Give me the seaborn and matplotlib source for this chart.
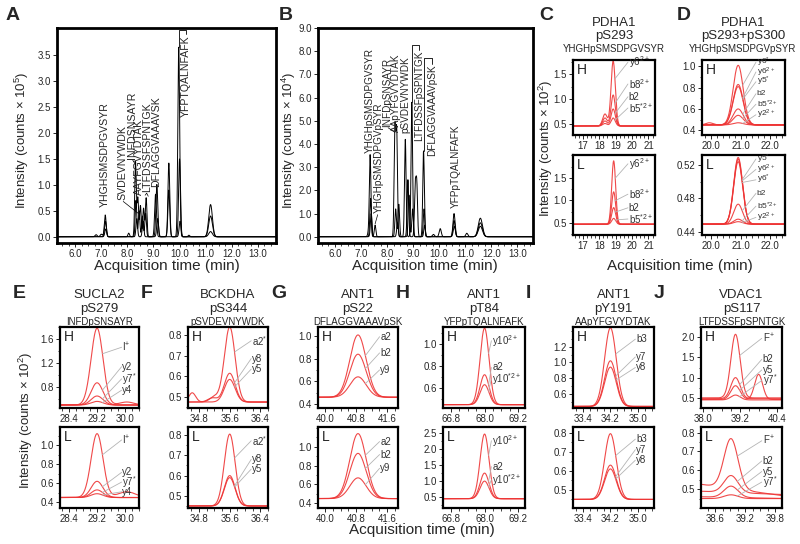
import numpy as np
import pandas as pd
import matplotlib
matplotlib.use("Agg")
import matplotlib.pyplot as plt
from matplotlib.ticker import FixedLocator, AutoMinorLocator, FormatStrFormatter
import seaborn as sns

sns.set_theme(style="ticks")
plt.rcParams["font.family"] = ["Liberation Sans", "DejaVu Sans"]
plt.rcParams["mathtext.fontset"] = "custom"
plt.rcParams["mathtext.rm"] = "Liberation Sans"
plt.rcParams["mathtext.it"] = "Liberation Sans:italic"
plt.rcParams["mathtext.bf"] = "Liberation Sans:bold"

# ---------------- A: light peptides overview (counts x 1e5) ----------------
a_rt = [6.80, 7.00, 7.15, 8.05, 8.31, 8.40, 8.50, 8.62, 8.72, 9.08, 9.59, 9.97, 11.19,
        7.16, 8.33, 8.45, 8.58, 8.70, 9.12, 9.14, 9.59, 10.00, 11.19,
        7.17, 8.36, 8.60, 9.16, 10.02, 10.36, 11.19]
a_height = [0.04, 0.05, 0.42, 0.07, 1.45, 0.75, 0.60, 0.55, 0.75, 0.82, 1.42, 3.65, 0.62,
            0.30, 0.70, 0.50, 0.40, 0.45, 0.55, 0.50, 0.90, 1.50, 0.40,
            0.15, 0.35, 0.30, 0.35, 0.30, 0.03, 0.10]
a_width = [0.04, 0.04, 0.035, 0.03, 0.03, 0.03, 0.03, 0.03, 0.03, 0.035, 0.035, 0.035, 0.07,
           0.035, 0.03, 0.03, 0.03, 0.03, 0.035, 0.035, 0.035, 0.035, 0.07,
           0.035, 0.03, 0.03, 0.035, 0.035, 0.03, 0.07]
a_trace = [0] * 13 + [1] * 10 + [2] * 7
a_labels = ["YHGHSMSDPGVSYR", "SVDEVNYWDK", "INFDSNSAYR", "AAYFGVYDTAK",
            "LTFDSSFSPNTGK", "DFLAGGVAAAVSK", "YFPTQALNFAFK"]
a_label_x = [7.15, 7.80, 8.18, 8.44, 8.76, 9.10, 10.23]
a_label_y = [0.58, 0.70, 1.50, 0.80, 0.86, 0.95, 3.88]
a_label_va = ["bottom"] * 6 + ["top"]

# ---------------- B: heavy phosphopeptides overview (counts x 1e4) ----------------
b_rt = [7.28, 7.35, 7.54, 8.30, 8.37, 8.70, 8.95, 9.40, 10.04, 10.57, 11.06, 11.58,
        7.37, 8.33, 8.45, 8.80, 9.08, 9.14, 9.42, 9.78, 10.57, 11.58,
        7.39, 8.40, 8.84, 8.98, 9.44, 10.58, 11.58]
b_height = [0.15, 3.53, 0.50, 4.60, 4.45, 4.20, 5.80, 3.70, 0.35, 1.00, 0.15, 0.80,
            1.65, 1.20, 1.40, 2.46, 2.10, 2.20, 1.20, 0.10, 0.70, 0.60,
            1.00, 0.60, 1.80, 1.20, 0.50, 0.45, 0.45]
b_width = [0.03, 0.03, 0.03, 0.03, 0.03, 0.03, 0.03, 0.03, 0.04, 0.04, 0.04, 0.08,
           0.03, 0.03, 0.03, 0.03, 0.03, 0.03, 0.03, 0.04, 0.04, 0.08,
           0.03, 0.03, 0.03, 0.03, 0.03, 0.04, 0.08]
b_trace = [0] * 12 + [1] * 10 + [2] * 7
b_labels = ["YHGHpSMSDPGVSYR", "YHGHpSMSDPGVpSYR", "INFDpSNSAYR", "AApYFGVYDTAK",
            "pSVDEVNYWDK", "LTFDSSFpSPNTGK", "DFLAGGVAAAVpSK", "YFPpTQALNFAFK"]
b_label_x = [7.33, 7.68, 8.02, 8.35, 8.69, 9.22, 9.72, 10.62]
b_label_y = [3.60, 1.03, 4.74, 4.50, 4.46, 8.02, 7.42, 1.25]
b_label_va = ["bottom"] * 5 + ["top", "top", "bottom"]

# ---------------- C: PDHA1 pS293 ----------------
c_ions = ["y6$^{2+}$", "b8$^{2+}$", "b2", "b5$^{*2+}$"]
c_h_apex = [1.76, 1.08, 0.80, 0.62]
c_h_shoulder = [0.70, 0.62, 0.56, 0.51]
c_l_apex = [1.88, 1.19, 0.84, 0.60]

# ---------------- D: PDHA1 pS293+pS300 ----------------
d_h_ions = ["y6$^{*}$", "y6$^{2+}$", "y5$^{*}$", "b2", "b5$^{*2+}$", "y2$^{2+}$"]
d_h_apex = [1.01, 0.83, 0.81, 0.60, 0.54, 0.47]
d_l_ions = ["y5$^{*}$", "y6$^{2+}$", "y6$^{*}$", "b2", "b5$^{*2+}$", "y2$^{2+}$"]
d_l_apex = [0.529, 0.527, 0.524, 0.473, 0.455, 0.452]

# ---------------- E-J ----------------
e_ions = ["I$^{+}$", "y2", "y7$^{*}$", "y4"]
e_h_apex = [1.78, 0.87, 0.65, 0.56]
e_l_apex = [1.12, 0.62, 0.53, 0.49]

f_ions = ["a2$^{*}$", "y8", "y5"]
f_h_apex = [0.84, 0.615, 0.585]
f_l_apex = [0.805, 0.60, 0.59]

g_ions = ["a2", "b2", "y9"]
g_h_apex = [1.01, 0.84, 0.64]
g_l_apex = [1.14, 0.93, 0.67]

h_ions = ["y10$^{2+}$", "a2", "y10$^{*2+}$"]
h_h_apex = [1.14, 0.72, 0.63]
h_l_apex = [2.47, 1.25, 1.00]

i_ions = ["b3", "y7", "y8"]
i_h_apex = [1.44, 1.02, 0.94]
i_l_apex = [0.795, 0.63, 0.61]

j_ions = ["F$^{+}$", "b2", "y5", "y7$^{*}$"]
j_h_apex = [2.07, 1.00, 0.80, 0.57]
j_h_base = [0.50, 0.48, 0.46, 0.45]
j_l_apex = [0.795, 0.58, 0.52, 0.47]
j_l_base_left = [0.53, 0.49, 0.46, 0.45]
j_l_base_right = [0.46, 0.47, 0.45, 0.45]

RED = "#ee3535"
GREY = "#b4b4b4"

fig = plt.figure(figsize=(8, 5.44), dpi=100)


def box(l, t, r, b):
    return fig.add_axes([l / 800, 1 - b / 544, (r - l) / 800, (b - t) / 544])


def gauss(t, rt, w):
    return np.exp(-0.5 * ((t - rt) / w) ** 2)


def style(ax, xlim, ylim, xt, yt, xfmt="%.1f", yfmt="%.1f", lw=1.6, xminor=4, yminor=2):
    ax.set_xlim(xlim)
    ax.set_ylim(ylim)
    ax.xaxis.set_major_locator(FixedLocator(xt))
    ax.yaxis.set_major_locator(FixedLocator(yt))
    ax.xaxis.set_major_formatter(FormatStrFormatter(xfmt))
    ax.yaxis.set_major_formatter(FormatStrFormatter(yfmt))
    if xminor:
        ax.xaxis.set_minor_locator(AutoMinorLocator(xminor))
    if yminor:
        ax.yaxis.set_minor_locator(AutoMinorLocator(yminor))
    ax.tick_params(which="major", direction="out", length=3, width=0.7, labelsize=7, pad=1.5)
    ax.tick_params(which="minor", direction="out", length=1.8, width=0.6)
    for s in ax.spines.values():
        s.set_linewidth(lw)
        s.set_color("black")
    ax.set_xlabel("")
    ax.set_ylabel("")
    ax.grid(False)


def overview(ax, rt, height, width, trace, t):
    frames = []
    for k in sorted(set(trace)):
        y = np.zeros_like(t)
        for r, h, w, tr in zip(rt, height, width, trace):
            if tr == k:
                y = y + h * gauss(t, r, w)
        frames.append(pd.DataFrame({"time": t, "intensity": y, "trace": k}))
    df = pd.concat(frames)
    sns.lineplot(data=df, x="time", y="intensity", units="trace", estimator=None,
                 color="black", lw=0.7, ax=ax, legend=False)


def srm(ax, t, rt, w, ions, apex, base, label_x, label_y, lead, extra=None,
        base_right=None, fs=7):
    frames = []
    curves = []
    for i, ion in enumerate(ions):
        b0 = base[i] if isinstance(base, list) else base
        b1 = base_right[i] if base_right is not None else b0
        bl = b0 + (b1 - b0) * (t - t[0]) / (t[-1] - t[0])
        y = bl + (apex[i] - b0) * gauss(t, rt, w)
        if extra is not None:
            for (er, eh, ew, ei) in extra:
                if ei == i:
                    y = y + eh * gauss(t, er, ew)
        curves.append(y)
        frames.append(pd.DataFrame({"time": t, "intensity": y, "ion": ion}))
    df = pd.concat(frames)
    sns.lineplot(data=df, x="time", y="intensity", units="ion", estimator=None,
                 color=RED, lw=0.8, alpha=0.9, ax=ax, legend=False)
    for i, ion in enumerate(ions):
        tp = rt + lead * w
        yp = np.interp(tp, t, curves[i])
        ax.annotate("", xy=(tp, yp), xycoords="data",
                    xytext=(label_x - 0.01, label_y[i]), textcoords="axes fraction",
                    arrowprops=dict(arrowstyle="-", color=GREY, lw=0.6, shrinkA=0, shrinkB=0))
        ax.text(label_x, label_y[i], ion, transform=ax.transAxes, fontsize=fs,
                ha="left", va="center", color="#333333")


def hl(ax, s):
    ax.text(0.05, 0.96, s, transform=ax.transAxes, fontsize=10, ha="left", va="top")


def px_text(x, y, s, **kw):
    fig.text(x / 800, 1 - y / 544, s, **kw)


# ---- Panel A
axA = box(57, 28, 276, 243)
tA = np.linspace(5.3, 13.7, 3000)
overview(axA, a_rt, a_height, a_width, a_trace, tA)
style(axA, (5.3, 13.7), (-0.12, 4.02), [6, 7, 8, 9, 10, 11, 12, 13],
      [0, 0.5, 1.0, 1.5, 2.0, 2.5, 3.0, 3.5], lw=2.0, yminor=None)
for s, x, y, va in zip(a_labels, a_label_x, a_label_y, a_label_va):
    axA.text(x, y, s, rotation=90, fontsize=7.6, ha="center", va=va)
axA.plot([7.84, 8.42], [0.68, 0.45], color="black", lw=0.5)
axA.plot([8.20, 8.30], [1.48, 1.40], color="black", lw=0.5)
axA.plot([8.68, 8.74, 8.80], [0.80, 0.84, 0.78], color="black", lw=0.5)
axA.plot([9.97, 9.97, 10.23, 10.23], [3.66, 3.99, 3.99, 3.90], color="black", lw=0.6)

# ---- Panel B
axB = box(318, 28, 533, 243)
tB = np.linspace(5.35, 13.6, 3000)
overview(axB, b_rt, b_height, b_width, b_trace, tB)
style(axB, (5.35, 13.6), (-0.27, 9.0), [6, 7, 8, 9, 10, 11, 12, 13],
      [0, 1, 2, 3, 4, 5, 6, 7, 8, 9], lw=2.0, yminor=None)
for s, x, y, va in zip(b_labels, b_label_x, b_label_y, b_label_va):
    axB.text(x, y, s, rotation=90, fontsize=7.2, ha="center", va=va)
axB.plot([7.64, 7.54], [0.95, 0.55], color="black", lw=0.5)
axB.plot([8.04, 8.30], [4.70, 4.50], color="black", lw=0.5)
axB.plot([8.95, 8.95, 9.22, 9.22], [5.80, 8.27, 8.27, 8.06], color="black", lw=0.6)
axB.plot([9.40, 9.40, 9.72, 9.72], [3.70, 7.70, 7.70, 7.46], color="black", lw=0.6)

# ---- Panel C
tC = np.linspace(16.3, 21.5, 600)
axCH = box(573, 60, 655, 135)
srm(axCH, tC, 18.85, 0.13, c_ions, c_h_apex, 0.46, 0.68, [0.97, 0.68, 0.51, 0.36], 0.8,
    extra=[(18.35, c_h_shoulder[i] - 0.46, 0.14, i) for i in range(4)])
style(axCH, (16.4, 21.4), (0.28, 1.78), [17, 18, 19, 20, 21], [0.5, 1.0, 1.5], xfmt="%d")
hl(axCH, "H")
axCL = box(573, 155, 655, 235)
srm(axCL, tC, 18.88, 0.12, c_ions, c_l_apex, 0.47, 0.68, [0.89, 0.51, 0.34, 0.20], 0.8)
style(axCL, (16.4, 21.4), (0.23, 2.01), [17, 18, 19, 20, 21], [0.5, 1.0, 1.5], xfmt="%d")
hl(axCL, "L")

# ---- Panel D
tD = np.linspace(19.6, 22.6, 600)
axDH = box(702, 60, 785, 135)
srm(axDH, tD, 20.92, 0.17, d_h_ions, d_h_apex, 0.45, 0.66,
    [0.97, 0.84, 0.71, 0.55, 0.41, 0.27], 0.9,
    extra=[(19.95, 0.02, 0.12, 0)], fs=6)
style(axDH, (19.7, 22.5), (0.355, 1.06), [20, 21, 22], [0.4, 0.6, 0.8, 1.0], xminor=5)
hl(axDH, "H")
axDL = box(702, 155, 785, 235)
srm(axDL, tD, 20.92, 0.15, d_l_ions, d_l_apex, 0.449, 0.66,
    [0.95, 0.82, 0.69, 0.52, 0.36, 0.22], 0.9, fs=6)
style(axDL, (19.7, 22.5), (0.436, 0.532), [20, 21, 22], [0.44, 0.48, 0.52],
      yfmt="%.2f", xminor=5)
hl(axDL, "L")

# ---- bottom row
cols = {"E": (60, 139), "F": (188, 268), "G": (318, 398),
        "H": (443, 525), "I": (573, 654), "J": (701, 782)}
rowH = (327, 408)
rowL = (427, 508)


def pair(key):
    l, r = cols[key]
    return box(l, rowH[0], r, rowH[1]), box(l, rowL[0], r, rowL[1])


# E
axEH, axEL = pair("E")
tE = np.linspace(28.0, 30.6, 500)
srm(axEH, tE, 29.2, 0.17, e_ions, e_h_apex, 0.50, 0.79, [0.75, 0.51, 0.36, 0.22], 0.9,
    extra=[(30.05, 0.05, 0.2, 0)])
style(axEH, (28.14, 30.4), (0.45, 1.80), [28.4, 29.2, 30.0], [0.8, 1.2, 1.6])
srm(axEL, tE, 29.2, 0.17, e_ions, e_l_apex, 0.45, 0.79, [0.84, 0.44, 0.32, 0.20], 0.9,
    extra=[(30.05, 0.06, 0.25, 0)])
style(axEL, (28.14, 30.4), (0.34, 1.19), [28.4, 29.2, 30.0], [0.4, 0.6, 0.8, 1.0])

# F
axFH, axFL = pair("F")
tF = np.linspace(34.3, 36.8, 500)
srm(axFH, tF, 35.6, 0.14, f_ions, f_h_apex, 0.475, 0.80, [0.83, 0.61, 0.48], 0.9,
    extra=[(34.62, 0.045, 0.09, 0), (35.2, 0.025, 0.12, 0), (35.15, 0.02, 0.12, 1)])
style(axFH, (34.51, 36.6), (0.446, 0.84), [34.8, 35.6, 36.4], [0.5, 0.6, 0.7, 0.8])
srm(axFL, tF, 35.6, 0.14, f_ions, f_l_apex, 0.45, 0.80, [0.83, 0.60, 0.48], 0.9)
style(axFL, (34.51, 36.6), (0.44, 0.84), [34.8, 35.6, 36.4], [0.5, 0.6, 0.7, 0.8])

# G
axGH, axGL = pair("G")
tG = np.linspace(39.6, 42.1, 500)
srm(axGH, tG, 40.85, 0.21, g_ions, g_h_apex, 0.46, 0.78, [0.88, 0.68, 0.47], 0.9)
style(axGH, (39.82, 41.88), (0.365, 1.08), [40.0, 40.8, 41.6], [0.4, 0.6, 0.8, 1.0])
srm(axGL, tG, 40.85, 0.21, g_ions, g_l_apex, 0.45, 0.78, [0.82, 0.66, 0.49], 0.9)
style(axGL, (39.82, 41.88), (0.35, 1.21), [40.0, 40.8, 41.6], [0.4, 0.6, 0.8, 1.0])

# H
axHH, axHL = pair("H")
tH = np.linspace(66.3, 69.7, 600)
srm(axHH, tH, 68.0, 0.16, h_ions, h_h_apex, 0.45, 0.60, [0.83, 0.50, 0.36], 0.9)
style(axHH, (66.51, 69.45), (0.42, 1.15), [66.8, 68.0, 69.2], [0.6, 0.8, 1.0])
srm(axHL, tH, 68.0, 0.16, h_ions, h_l_apex, 0.45, 0.60, [0.83, 0.51, 0.35], 0.9)
style(axHL, (66.51, 69.45), (0.16, 2.69), [66.8, 68.0, 69.2], [0.5, 1.0, 1.5, 2.0, 2.5])

# I
axIH, axIL = pair("I")
tI = np.linspace(32.9, 35.7, 600)
srm(axIH, tI, 34.2, 0.17, i_ions, i_h_apex, 0.44, 0.78, [0.85, 0.63, 0.50], 0.9)
style(axIH, (33.11, 35.47), (0.42, 1.45), [33.4, 34.2, 35.0], [0.6, 0.8, 1.0, 1.2])
srm(axIL, tI, 34.2, 0.17, i_ions, i_l_apex, 0.45, 0.78, [0.85, 0.72, 0.59], 0.9)
style(axIL, (33.11, 35.47), (0.405, 0.83), [33.4, 34.2, 35.0], [0.5, 0.6, 0.7, 0.8])

# J
axJH, axJL = pair("J")
tJ = np.linspace(37.7, 40.8, 600)
srm(axJH, tJ, 39.05, 0.15, j_ions, j_h_apex, j_h_base, 0.76, [0.86, 0.60, 0.47, 0.34], 0.9,
    extra=[(39.8, 0.62, 0.13, 2)])
style(axJH, (37.93, 40.56), (0.25, 2.25), [38.0, 39.2, 40.4], [0.5, 1.0, 1.5, 2.0])
tJL = np.linspace(38.2, 40.1, 600)
srm(axJL, tJL, 38.92, 0.14, j_ions, j_l_apex, j_l_base_left, 0.76,
    [0.83, 0.58, 0.45, 0.32], 0.9, base_right=j_l_base_right)
style(axJL, (38.32, 39.94), (0.40, 0.83), [38.6, 39.2, 39.8], [0.5, 0.6, 0.7, 0.8])

for axh, axl in [(axEH, axEL), (axFH, axFL), (axGH, axGL), (axHH, axHL), (axIH, axIL), (axJH, axJL)]:
    hl(axh, "H")
    hl(axl, "L")

# ---- titles and letters
titles = {"E": ("SUCLA2", "pS279", "INFDpSNSAYR"),
          "F": ("BCKDHA", "pS344", "pSVDEVNYWDK"),
          "G": ("ANT1", "pS22", "DFLAGGVAAAVpSK"),
          "H": ("ANT1", "pT84", "YFPpTQALNFAFK"),
          "I": ("ANT1", "pY191", "AApYFGVYDTAK"),
          "J": ("VDAC1", "pS117", "LTFDSSFpSPNTGK")}
for key, (l, r) in cols.items():
    cx = (l + r) / 2
    g, p, seq = titles[key]
    px_text(cx, 295, g, fontsize=9.5, ha="center", va="center")
    px_text(cx, 309, p, fontsize=9.5, ha="center", va="center")
    px_text(cx, 322, seq, fontsize=7, ha="center", va="center")
    px_text(l - 47, 293, key, fontsize=14, fontweight="bold", ha="left", va="center")

px_text(614, 23, "PDHA1", fontsize=9.5, ha="center", va="center")
px_text(614, 36, "pS293", fontsize=9.5, ha="center", va="center")
px_text(614, 49, "YHGHpSMSDPGVSYR", fontsize=7, ha="center", va="center")
px_text(743, 23, "PDHA1", fontsize=9.5, ha="center", va="center")
px_text(743, 36, "pS293+pS300", fontsize=9.5, ha="center", va="center")
px_text(743, 49, "YHGHpSMSDPGVpSYR", fontsize=7, ha="center", va="center")

for s, x, y in [("A", 6, 16), ("B", 279, 16), ("C", 539, 15), ("D", 677, 15)]:
    px_text(x, y, s, fontsize=14, fontweight="bold", ha="left", va="center")

ylab = "Intensity (counts \u00d7 10$^{%d}$)"
px_text(22, 140, ylab % 5, fontsize=9.5, rotation=90, ha="center", va="center")
px_text(289, 140, ylab % 4, fontsize=9.5, rotation=90, ha="center", va="center")
px_text(546, 148, ylab % 2, fontsize=9.5, rotation=90, ha="center", va="center")
px_text(26, 420, ylab % 2, fontsize=9.5, rotation=90, ha="center", va="center")

xlab = "Acquisition time (min)"
px_text(167, 266, xlab, fontsize=11, ha="center", va="center")
px_text(425, 266, xlab, fontsize=11, ha="center", va="center")
px_text(680, 266, xlab, fontsize=11, ha="center", va="center")
px_text(422, 530, xlab, fontsize=11, ha="center", va="center")

fig.savefig("out.png", dpi=100)
